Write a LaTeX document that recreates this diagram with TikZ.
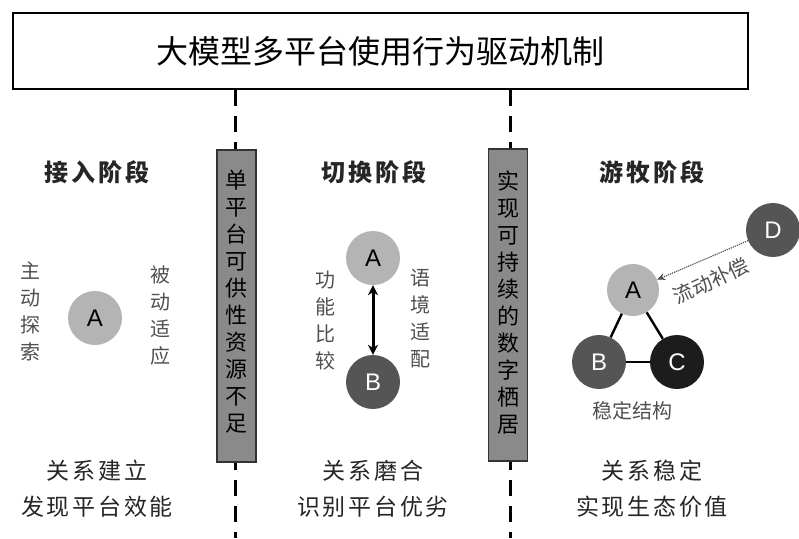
\documentclass[tikz,border=0pt]{standalone}
\usepackage{fontspec}
\setmainfont{Liberation Sans}
\newfontfamily\cjk{Noto Sans CJK SC}
\newfontfamily\cjkwide[LetterSpace=12]{Noto Sans CJK SC}
\usetikzlibrary{arrows.meta}
\definecolor{lightg}{HTML}{B4B4B4}
\definecolor{darkg}{HTML}{555555}
\definecolor{blackg}{HTML}{1C1C1C}
\definecolor{boxg}{HTML}{8A8A8A}
\definecolor{labelg}{HTML}{505050}
\tikzset{
  titlebox/.style={draw=black, line width=1.8pt, minimum width=735pt, minimum height=76pt, inner sep=0pt},
  sep/.style={line width=3pt, dash pattern=on 16pt off 10pt},
  gbox/.style={draw=black!80, fill=boxg, line width=1.2pt, minimum width=39pt, minimum height=312pt, inner sep=0pt},
  gboxtext/.style={font=\cjk\fontsize{22}{27}\selectfont, align=center, text=black},
  phase/.style={font=\cjkwide\bfseries\fontsize{24}{28}\selectfont, text=black!85},
  bottomtxt/.style={font=\cjkwide\fontsize{23}{36}\selectfont, align=center, text=black!85},
  sidelabel/.style={font=\cjk\fontsize{20}{27}\selectfont, align=center, text=labelg},
  cir/.style={circle, minimum size=54pt, inner sep=0pt, font=\fontsize{24}{24}\selectfont},
  ca/.style={cir, fill=lightg, text=black},
  cb/.style={cir, fill=darkg, text=white},
  cc/.style={cir, fill=blackg, text=white},
  edge/.style={line width=2.4pt, black},
}
\begin{document}
\begin{tikzpicture}[x=1pt,y=-1pt]
\useasboundingbox (0,0) rectangle (799,538);
\fill[white] (0,0) rectangle (799,538);
% separators
\coordinate (s1t) at (235,90);
\coordinate (s1b) at (235,538);
\coordinate (s2t) at (510,90);
\coordinate (s2b) at (510,538);
\draw[sep] (s1t) -- (s1b);
\draw[sep] (s2t) -- (s2b);
% title
\node[titlebox, fill=white] (title) at (380.5,51) {};
\node[font=\cjk\fontsize{32}{32}\selectfont] (titletxt) at (380,51) {大模型多平台使用行为驱动机制};
% gray boxes
\node[gbox] (g1) at (236.5,306) {};
\node[gboxtext] (g1t) at (236.5,302) {单\\平\\台\\可\\供\\性\\资\\源\\不\\足};
\node[gbox] (g2) at (508,305) {};
\node[gboxtext] (g2t) at (508,303) {实\\现\\可\\持\\续\\的\\数\\字\\栖\\居};
% phase headers
\node[phase] (p1) at (97,172) {接入阶段};
\node[phase] (p2) at (374,172) {切换阶段};
\node[phase] (p3) at (652,172) {游牧阶段};
% stage 1
\node[ca] (a1) at (95,318) {A};
\node[sidelabel] (l1) at (30,311) {主\\动\\探\\索};
\node[sidelabel] (r1) at (160,315) {被\\动\\适\\应};
% stage 2
\node[ca] (a2) at (373,258) {A};
\node[cb] (b2) at (373,382) {B};
\draw[edge, line width=3pt, {Stealth[length=10pt,width=10pt]}-{Stealth[length=10pt,width=10pt]}] (a2) -- (b2);
\node[sidelabel] (l2) at (325,321) {功\\能\\比\\较};
\node[sidelabel] (r2) at (420,319) {语\\境\\适\\配};
% stage 3
\node[ca, minimum size=52pt] (a3) at (633,290) {A};
\node[cb] (b3) at (599,362) {B};
\node[cc] (c3) at (677,362) {C};
\node[cb] (d3) at (773,230) {D};
\draw[edge] (a3) -- (b3);
\draw[edge] (a3) -- (c3);
\draw[edge] (b3) -- (c3);
\draw[densely dotted, line width=1.2pt, labelg, -{Stealth[length=8pt,width=7pt]}] (d3) -- (a3);
\node[sidelabel, rotate=25, inner sep=1pt] (flow) at (711,281) {流动补偿};
\node[sidelabel] (stable) at (632,411) {稳定结构};
% bottom texts
\node[bottomtxt] (bt1) at (97,489) {关系建立\\发现平台效能};
\node[bottomtxt] (bt2) at (373,489) {关系磨合\\识别平台优劣};
\node[bottomtxt] (bt3) at (652,489) {关系稳定\\实现生态价值};
\end{tikzpicture}
\end{document}
